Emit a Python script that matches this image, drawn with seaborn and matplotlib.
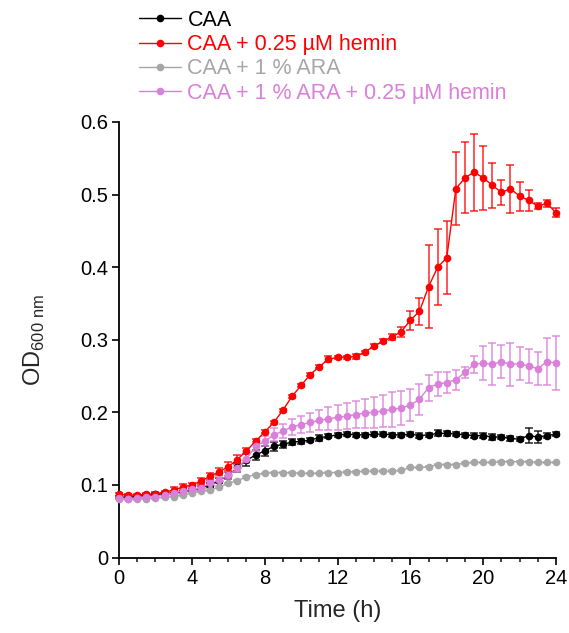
import numpy as np
import pandas as pd
import matplotlib
matplotlib.use("Agg")
import matplotlib.pyplot as plt
import seaborn as sns
from matplotlib.ticker import FuncFormatter, MultipleLocator

# === Data ===
time_h = [0, 0.5, 1, 1.5, 2, 2.5, 3, 3.5, 4, 4.5, 5, 5.5, 6, 6.5, 7, 7.5, 8, 8.5,
          9, 9.5, 10, 10.5, 11, 11.5, 12, 12.5, 13, 13.5, 14, 14.5, 15, 15.5, 16,
          16.5, 17, 17.5, 18, 18.5, 19, 19.5, 20, 20.5, 21, 21.5, 22, 22.5, 23,
          23.5, 24]

caa = [0.083, 0.083, 0.084, 0.086, 0.087, 0.088, 0.089, 0.091, 0.093, 0.096,
       0.100, 0.106, 0.113, 0.124, 0.134, 0.141, 0.147, 0.153, 0.156, 0.159,
       0.160, 0.162, 0.165, 0.167, 0.169, 0.170, 0.169, 0.169, 0.170, 0.170,
       0.169, 0.169, 0.170, 0.168, 0.169, 0.171, 0.171, 0.170, 0.169, 0.168,
       0.168, 0.166, 0.166, 0.164, 0.163, 0.168, 0.166, 0.168, 0.170]
caa_err = [0.002, 0.002, 0.002, 0.002, 0.002, 0.002, 0.002, 0.002, 0.002, 0.003,
           0.003, 0.004, 0.005, 0.006, 0.008, 0.007, 0.007, 0.006, 0.005, 0.004,
           0.003, 0.003, 0.004, 0.003, 0.003, 0.003, 0.003, 0.003, 0.003, 0.003,
           0.003, 0.003, 0.003, 0.003, 0.003, 0.004, 0.003, 0.003, 0.003, 0.003,
           0.003, 0.004, 0.003, 0.003, 0.003, 0.010, 0.008, 0.003, 0.003]

caa_hemin = [0.087, 0.086, 0.086, 0.087, 0.088, 0.090, 0.093, 0.097, 0.100, 0.105,
             0.112, 0.118, 0.125, 0.135, 0.147, 0.160, 0.173, 0.186, 0.203, 0.222,
             0.237, 0.252, 0.263, 0.273, 0.276, 0.276, 0.277, 0.283, 0.291, 0.298,
             0.304, 0.311, 0.327, 0.339, 0.373, 0.400, 0.413, 0.508, 0.523, 0.531,
             0.523, 0.513, 0.503, 0.508, 0.498, 0.492, 0.484, 0.488, 0.475]
caa_hemin_err = [0.002, 0.002, 0.002, 0.002, 0.002, 0.002, 0.004, 0.004, 0.003, 0.004,
                 0.005, 0.005, 0.006, 0.006, 0.004, 0.003, 0.002, 0.002, 0.002, 0.002,
                 0.002, 0.002, 0.002, 0.004, 0.002, 0.002, 0.004, 0.002, 0.003, 0.003,
                 0.004, 0.007, 0.013, 0.018, 0.057, 0.052, 0.050, 0.050, 0.049, 0.053,
                 0.044, 0.031, 0.017, 0.033, 0.020, 0.015, 0.004, 0.005, 0.006]

caa_ara = [0.081, 0.080, 0.080, 0.081, 0.082, 0.083, 0.084, 0.086, 0.089, 0.091,
           0.093, 0.097, 0.102, 0.106, 0.111, 0.114, 0.116, 0.117, 0.117, 0.117,
           0.116, 0.116, 0.116, 0.117, 0.117, 0.118, 0.118, 0.119, 0.119, 0.119,
           0.119, 0.120, 0.124, 0.124, 0.125, 0.128, 0.128, 0.128, 0.130, 0.131,
           0.131, 0.131, 0.132, 0.132, 0.132, 0.132, 0.131, 0.131, 0.131]
caa_ara_err = [0.001] * 49

caa_ara_hemin = [0.082, 0.081, 0.082, 0.084, 0.084, 0.086, 0.089, 0.092, 0.094, 0.096,
                 0.102, 0.107, 0.113, 0.123, 0.136, 0.153, 0.160, 0.169, 0.174, 0.180,
                 0.183, 0.186, 0.189, 0.191, 0.193, 0.195, 0.197, 0.199, 0.200, 0.202,
                 0.204, 0.206, 0.210, 0.218, 0.234, 0.239, 0.241, 0.245, 0.255, 0.266,
                 0.268, 0.266, 0.270, 0.266, 0.267, 0.264, 0.260, 0.270, 0.268]
caa_ara_hemin_err = [0.002, 0.002, 0.002, 0.002, 0.002, 0.002, 0.002, 0.003, 0.003, 0.003,
                     0.003, 0.004, 0.005, 0.005, 0.006, 0.006, 0.007, 0.009, 0.010, 0.011,
                     0.012, 0.013, 0.014, 0.016, 0.017, 0.018, 0.019, 0.020, 0.021, 0.022,
                     0.024, 0.024, 0.022, 0.021, 0.018, 0.017, 0.014, 0.014, 0.008, 0.012,
                     0.024, 0.029, 0.023, 0.030, 0.023, 0.023, 0.023, 0.033, 0.037]

labels = ["CAA", "CAA + 0.25 µM hemin", "CAA + 1 % ARA", "CAA + 1 % ARA + 0.25 µM hemin"]
colors = ["#000000", "#ff0000", "#a6a6a6", "#da7fda"]
means = [caa, caa_hemin, caa_ara, caa_ara_hemin]
errs = [caa_err, caa_hemin_err, caa_ara_err, caa_ara_hemin_err]

# === Style ===
sns.set_style("ticks")
plt.rcParams['font.family'] = ['Liberation Sans', 'DejaVu Sans']
plt.rcParams['mathtext.fontset'] = 'custom'
plt.rcParams['mathtext.rm'] = 'Liberation Sans'

fig = plt.figure(figsize=(5.69, 6.33), dpi=100)
ax = fig.add_axes([119 / 569, 1 - 557.5 / 633, (556 - 119) / 569, (557.5 - 122) / 633])

# draw order: gray at the back, orchid on top
draw_order = [2, 0, 1, 3]
for i in draw_order:
    df = pd.DataFrame({"t": time_h, "od": means[i]})
    ax.errorbar(time_h, means[i], yerr=errs[i], fmt="none", ecolor=colors[i],
                elinewidth=1.1, capsize=2.6, capthick=1.1, alpha=0.85,
                zorder=2 + i * 0.1, clip_on=False)
    sns.lineplot(data=df, x="t", y="od", ax=ax, color=colors[i], marker="o",
                 markersize=5.5, markeredgewidth=0, linewidth=1.0,
                 label=labels[i], zorder=3 + i * 0.1, clip_on=False)

ax.set_xlim(0, 24)
ax.set_ylim(0, 0.6)
ax.xaxis.set_major_locator(MultipleLocator(4))
ax.xaxis.set_minor_locator(MultipleLocator(1))
ax.yaxis.set_major_locator(MultipleLocator(0.1))
ax.yaxis.set_major_formatter(FuncFormatter(lambda v, p: f"{v:g}"))
ax.tick_params(axis="both", which="major", direction="out", length=5, width=1.2,
               labelsize=14.5, pad=3, color="black", labelcolor="black")
ax.tick_params(axis="x", which="minor", direction="out", length=3, width=1.2)
for side in ["top", "right"]:
    ax.spines[side].set_visible(False)
for side in ["left", "bottom"]:
    ax.spines[side].set_linewidth(1.3)
    ax.spines[side].set_color("black")

ax.set_xlabel("Time (h)", fontsize=17, labelpad=9)
ax.set_ylabel(r"OD$_{\mathregular{600\ nm}}$", fontsize=17, labelpad=24)

# === Legend above the plot ===
ax.get_legend().remove()
handles, _ = ax.get_legend_handles_labels()
by_label = dict(zip([h.get_label() for h in handles], handles))
leg = fig.legend([by_label[l] for l in labels], labels, loc="upper left",
                 bbox_to_anchor=(139 / 569, 1 - 10 / 633), frameon=False,
                 fontsize=15.5, handlelength=1.95, handletextpad=0.3,
                 labelspacing=0.15, borderpad=0, borderaxespad=0)
for txt, c in zip(leg.get_texts(), colors):
    txt.set_color(c)

fig.savefig("out.png", dpi=100)
